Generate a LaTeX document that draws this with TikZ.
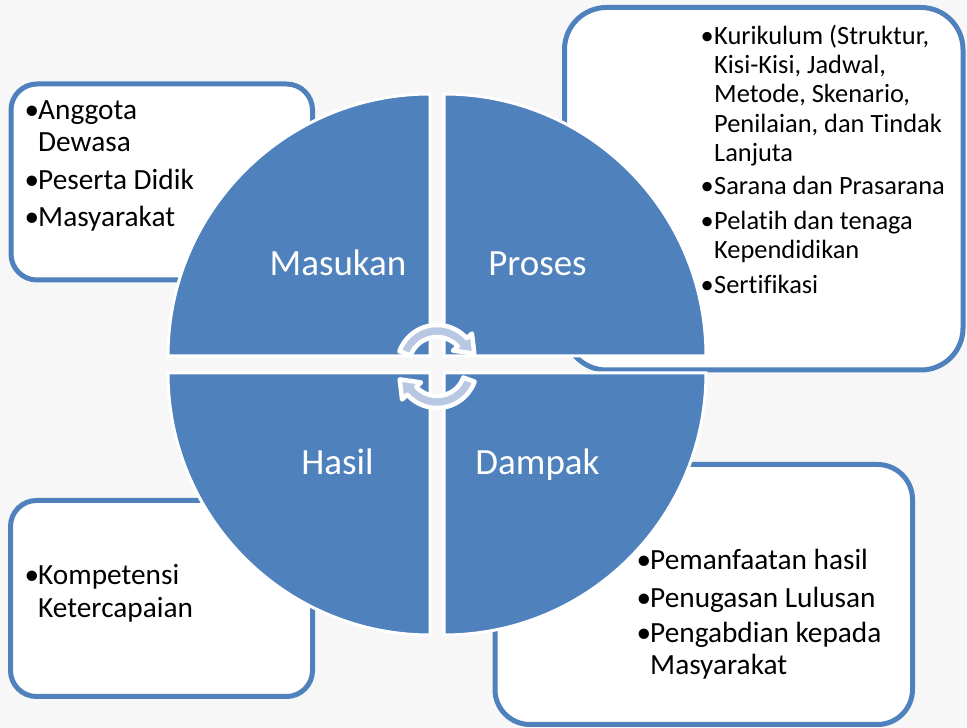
\documentclass[tikz,border=0pt]{standalone}
\usepackage{fontspec}
\setmainfont[Ligatures=NoCommon]{Carlito}
\definecolor{qblue}{RGB}{79,129,189}
\definecolor{arrfill}{RGB}{185,200,226}
\definecolor{bgc}{RGB}{247,247,247}
\newcommand{\bul}{\makebox[12pt][l]{\hspace{-1.5pt}•}}
\begin{document}
\begin{tikzpicture}[x=1pt,y=1pt,
  box/.style={draw=qblue,line width=5pt,fill=white},
  quad/.style={fill=qblue,draw=white,line width=3pt},
  lbl/.style={text=white,font=\fontsize{37}{44}\selectfont,inner sep=0pt,anchor=base},
  txtA/.style={inner sep=0pt,anchor=base west,font=\fontsize{29.3}{35}\selectfont},
  txtB/.style={inner sep=0pt,anchor=base west,font=\fontsize{26.4}{32}\selectfont},
  arr/.style={fill=arrfill,draw=white,line width=4.5pt,line join=round}]
\fill[bgc] (0,0) rectangle (967,728);
\useasboundingbox (0,0) rectangle (967,728);
% boxes
\draw[box,rounded corners=26pt] (11,448) rectangle (312.5,644);
\draw[box,rounded corners=42pt] (564.5,358) rectangle (963,720.5);
\draw[box,rounded corners=26pt] (10.5,31.5) rectangle (312.5,227.5);
\draw[box,rounded corners=35pt] (495,3.5) rectangle (912.5,263.5);
% quadrants
\draw[quad] (430,372) -- ++(-262,0) arc[start angle=180,end angle=90,radius=262] -- cycle;
\draw[quad] (444,372) -- ++(0,262) arc[start angle=90,end angle=0,radius=262] -- cycle;
\draw[quad] (430,355) -- ++(0,-262) arc[start angle=270,end angle=180,radius=262] -- cycle;
\draw[quad] (444,355) -- ++(262,0) arc[start angle=0,end angle=-90,radius=262] -- cycle;
% labels
\node[lbl] (masukan) at (338,452) {Masukan};
\node[lbl] (proses) at (537.5,452) {Proses};
\node[lbl] (hasil) at (337.5,253) {Hasil};
\node[lbl] (dampak) at (537.5,253) {Dampak};
% circular arrows
\coordinate (c1) at (437,363);
\coordinate (c2) at (437,360);
\draw[arr] ([shift={(160:40)}]c1) arc[start angle=160,end angle=42,radius=40]
  -- ([shift={(42:47)}]c1) -- ([shift={(17:39)}]c1) -- ([shift={(42:21.5)}]c1)
  -- ([shift={(42:28)}]c1) arc[start angle=42,end angle=160,radius=28] -- cycle;
\draw[arr] ([shift={(340:40)}]c2) arc[start angle=340,end angle=222,radius=40]
  -- ([shift={(222:47)}]c2) -- ([shift={(197:39)}]c2) -- ([shift={(222:21.5)}]c2)
  -- ([shift={(222:28)}]c2) arc[start angle=222,end angle=340,radius=28] -- cycle;
% Masukan text
\node[txtA] (m1) at (26,608) {\bul Anggota};
\node[txtA] (m2) at (38,576) {Dewasa};
\node[txtA] (m3) at (26,538) {\bul Peserta Didik};
\node[txtA] (m4) at (26,501) {\bul Masyarakat};
% Proses text
\node[txtB] (p1) at (702,683) {\bul Kurikulum (Struktur,};
\node[txtB] (p2) at (714,654) {Kisi-Kisi, Jadwal,};
\node[txtB] (p3) at (714,625) {Metode, Skenario,};
\node[txtB] (p4) at (714,595.5) {Penilaian, dan Tindak};
\node[txtB] (p5) at (714,566.3) {Lanjuta};
\node[txtB] (p6) at (702,533) {\bul Sarana dan Prasarana};
\node[txtB] (p7) at (702,498) {\bul Pelatih dan tenaga};
\node[txtB] (p8) at (714,469.7) {Kependidikan};
\node[txtB] (p9) at (702,434.7) {\bul Sertifikasi};
% Hasil text
\node[txtA] (h1) at (26,143) {\bul Kompetensi};
\node[txtA] (h2) at (38,110) {Ketercapaian};
% Dampak text
\node[txtA] (d1) at (638,158) {\bul Pemanfaatan hasil};
\node[txtA] (d2) at (638,120) {\bul Penugasan Lulusan};
\node[txtA] (d3) at (638,85) {\bul Pengabdian kepada};
\node[txtA] (d4) at (650,53) {Masyarakat};
\end{tikzpicture}
\end{document}
